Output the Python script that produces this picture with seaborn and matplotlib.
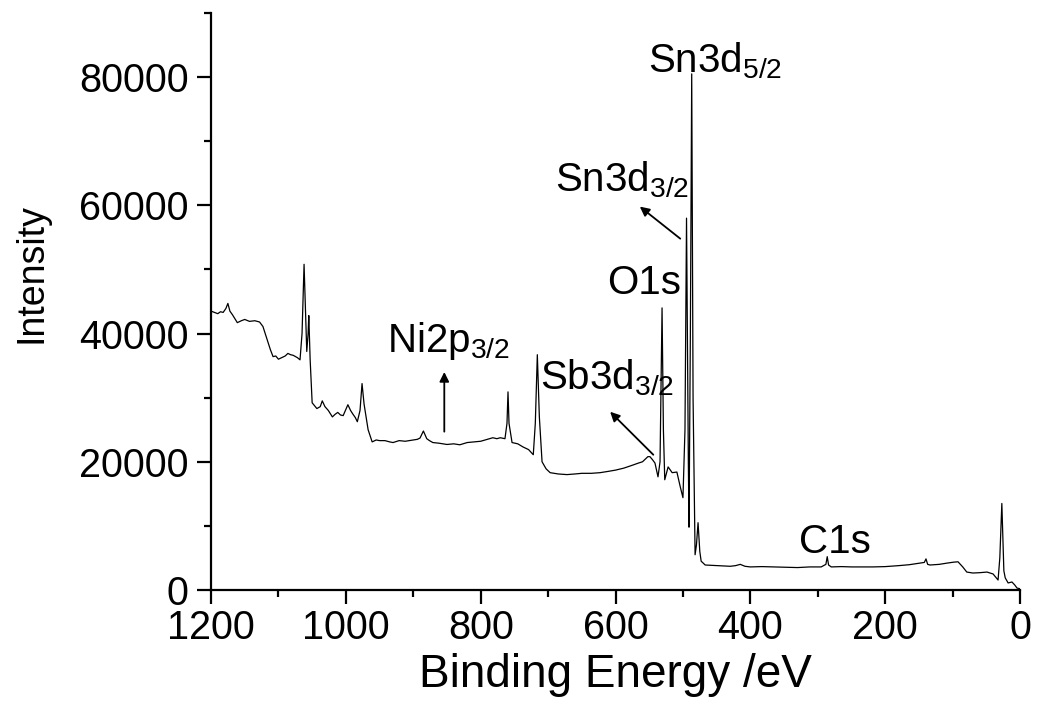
import numpy as np
import pandas as pd
import matplotlib
matplotlib.use('Agg')
import matplotlib.pyplot as plt
from matplotlib.ticker import MultipleLocator
import seaborn as sns

# XPS survey spectrum
binding_energy = [1200, 1195, 1190, 1186, 1182, 1178, 1175, 1172, 1168, 1161, 1155, 1150, 1143, 1135,
                  1128, 1123, 1112, 1108, 1104, 1100, 1095, 1090, 1086, 1082, 1078, 1072, 1068, 1065,
                  1062, 1060, 1058, 1056, 1055, 1053, 1050, 1047, 1043, 1038, 1035, 1031, 1026, 1020,
                  1016, 1012, 1008, 1004, 997, 993, 990, 986, 983, 979, 976, 973, 967, 961, 955, 950,
                  942, 935, 930, 921, 912, 906, 900, 894, 890, 885, 880, 876, 871, 862, 850, 840, 831,
                  820, 810, 800, 790, 782, 776, 771, 764, 761, 759.5, 758, 753.5, 749, 745, 737, 729,
                  722, 719, 716, 713, 709, 703, 697, 685, 672, 660, 650, 636, 623, 611, 600, 588, 574,
                  566, 560, 552, 549, 545, 541.5, 537, 534, 531, 529, 527, 522, 516, 509, 504, 500,
                  497, 494.7, 492, 491, 489, 487, 485, 482, 480, 477.6, 475, 473, 467, 458, 450, 440,
                  430, 422, 415, 408, 400, 383, 366, 348, 330, 312, 295, 288, 286, 284, 280, 265, 250,
                  234, 218, 200, 180, 164, 148, 142, 139.5, 137, 133.5, 120, 108, 98, 92, 85, 79, 70,
                  60, 49, 40, 32.6, 30, 27, 24, 22, 17.7, 12, 8, 4.4, 0]
intensity = [43500, 43300, 43100, 43400, 43300, 43900, 44700, 43500, 42900, 41700, 42000, 42200, 41900, 42000,
             41800, 41100, 37500, 36400, 36500, 36000, 36250, 36500, 36900, 36700, 36600, 36250, 35900, 40000,
             50800, 44000, 37200, 40000, 42800, 36000, 29200, 28800, 28300, 28600, 29500, 28600, 28000, 27000,
             27400, 27700, 27300, 27200, 28900, 28000, 27500, 26900, 26250, 28000, 32200, 29000, 25000, 23100, 23400, 23300,
             23300, 23100, 23000, 23300, 23200, 23300, 23400, 23500, 23700, 24800, 23600, 23300, 23000, 22900, 22700, 22800, 22650,
             23000, 23100, 23200, 23500, 23750, 23600, 23750, 23600, 26000, 30900, 26000, 23000, 22900, 22800, 22300, 21900,
             21100, 26000, 36700, 27000, 20000, 18900, 18300, 18100, 18000, 18100, 18200, 18200, 18300, 18500, 18700, 19000, 19500,
             19800, 20000, 20800, 20800, 20300, 19800, 17650, 20000, 44000, 25000, 17200, 19200, 18300, 18400, 16100, 14400,
             25000, 58000, 20000, 9800, 40000, 80500, 30000, 5500, 7000, 10500, 6000, 4500, 3900, 3850, 3800, 3750,
             3700, 3800, 4000, 3700, 3600, 3650, 3600, 3550, 3500, 3600, 3600, 4000, 5200, 3900, 3600, 3650, 3600,
             3600, 3600, 3650, 3800, 3950, 4200, 4300, 4850, 4000, 3900, 4000, 4200, 4350, 4400, 3600, 2800, 2650,
             2700, 2800, 2500, 1560, 5000, 13500, 3000, 1900, 1100, 1250, 800, 300, 200]

# peak labels: text, text position (eV, counts)
peak_labels = [r'Sn3d$_{5/2}$', r'Sn3d$_{3/2}$', 'O1s', r'Sb3d$_{3/2}$', r'Ni2p$_{3/2}$', 'C1s']
label_x = [552, 690, 613, 712, 939, 328]
label_y = [80800, 62200, 46100, 31250, 37200, 5800]

# arrows: tail (eV, counts) -> head (eV, counts)
arrow_tail_x = [504, 544, 854]
arrow_tail_y = [54800, 21100, 24700]
arrow_head_x = [564, 608, 854]
arrow_head_y = [59800, 27800, 34000]

spectrum = pd.DataFrame({'Binding Energy': binding_energy, 'Intensity': intensity})

sns.set_theme(style='ticks')
plt.rcParams['font.family'] = ['Liberation Sans', 'DejaVu Sans']
plt.rcParams['mathtext.fontset'] = 'custom'
plt.rcParams['mathtext.rm'] = 'Liberation Sans'
plt.rcParams['mathtext.it'] = 'Liberation Sans'
plt.rcParams['mathtext.default'] = 'regular'

fig = plt.figure(figsize=(10.38, 7.13), dpi=100)
ax = fig.add_axes([0.2033, 0.1725, 0.7794, 0.8093])

sns.lineplot(data=spectrum, x='Binding Energy', y='Intensity', color='black',
             linewidth=0.9, estimator=None, ax=ax)

ax.set_xlim(1200, 0)
ax.set_ylim(0, 90000)
ax.xaxis.set_major_locator(MultipleLocator(200))
ax.xaxis.set_minor_locator(MultipleLocator(100))
ax.yaxis.set_major_locator(MultipleLocator(20000))
ax.yaxis.set_minor_locator(MultipleLocator(10000))

for side in ['top', 'right']:
    ax.spines[side].set_visible(False)
for side in ['left', 'bottom']:
    ax.spines[side].set_linewidth(1.6)
    ax.spines[side].set_color('black')

ax.tick_params(axis='both', which='major', direction='out', length=10, width=1.6,
               labelsize=28.5, color='black', labelcolor='black')
ax.tick_params(axis='both', which='minor', direction='out', length=5, width=1.6, color='black')
ax.tick_params(axis='y', which='major', pad=6)
ax.tick_params(axis='x', which='major', pad=4)

ax.set_xlabel('Binding Energy /eV', fontsize=33, color='black', labelpad=4)
ax.set_ylabel('Intensity', fontsize=27, color='black')
ax.yaxis.set_label_coords(-0.2, 0.55)

for txt, tx, ty in zip(peak_labels, label_x, label_y):
    ax.text(tx, ty, txt, fontsize=29, color='black', ha='left', va='baseline')

for x0, y0, x1, y1 in zip(arrow_tail_x, arrow_tail_y, arrow_head_x, arrow_head_y):
    ax.annotate('', xy=(x1, y1), xytext=(x0, y0),
                arrowprops=dict(arrowstyle='-|>', color='black', lw=1.3,
                                mutation_scale=14, shrinkA=0, shrinkB=0))

fig.savefig('out.png', dpi=100)
